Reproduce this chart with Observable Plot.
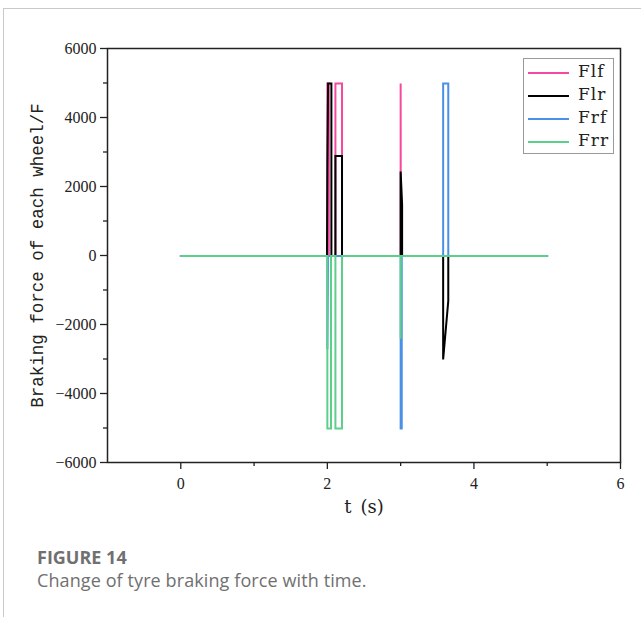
<!DOCTYPE html>
<html>
<head>
<meta charset="utf-8">
<script src="https://cdn.jsdelivr.net/npm/d3@7"></script>
<script src="https://cdn.jsdelivr.net/npm/@observablehq/plot@0.6"></script>
<style>
  html, body { margin: 0; padding: 0; background: #fff; }
  body { width: 641px; height: 617px; position: relative; overflow: hidden; }
  #page { position: absolute; left: 3px; top: 8px; width: 700px; height: 700px;
          border-top: 1px solid #c9c9c9; border-left: 1px solid #c9c9c9; }
  #chart { position: absolute; left: 0; top: 0; }
  #legend { position: absolute; left: 523px; top: 58px; width: 91px; height: 96px;
            border: 1px solid #9a9a9a; background: #fff; box-sizing: border-box; }
  .lrow { position: absolute; left: 0; height: 23px; width: 91px; }
  .lrow .sw { position: absolute; left: 4px; width: 41px; top: 11px; height: 0; border-top: 2px solid; }
  .lrow .lt { position: absolute; left: 54px; top: -1px; font-family: "DejaVu Serif", "Liberation Serif", serif;
              font-size: 17px; color: #222; line-height: 23px; letter-spacing: 1px; }
  #cap1 { position: absolute; left: 37px; top: 545px; font-family: "Open Sans", Lato, sans-serif;
          font-weight: 700; font-size: 18px; color: #707070; }
  #cap2 { position: absolute; left: 37px; top: 568px; font-family: "Open Sans", Lato, sans-serif;
          font-size: 18px; color: #707070; letter-spacing: 0.1px; }
</style>
</head>
<body>
<div id="page"></div>
<div id="chart"></div>
<div id="legend"></div>
<div id="cap1">FIGURE 14</div>
<div id="cap2">Change of tyre braking force with time.</div>
<script>
// Series names and colours
const seriesNames = ["Flf", "Flr", "Frf", "Frr"];
const seriesColors = ["#f7489f", "#000000", "#4a90e8", "#5ccf8a"];

// Time (s) and braking force values
const flfT = [0, 2.0, 2.0, 2.02, 2.02, 2.11, 2.11, 2.2, 2.2, 3.0, 3.0, 3.002, 5];
const flfV = [0, 0, 5000, 5000, 0, 0, 5000, 5000, 0, 0, 5000, 0, 0];

const flrT = [0, 1.995, 2.0, 2.01, 2.055, 2.055, 2.11, 2.11, 2.2, 2.2, 3.0, 3.0, 3.02, 3.02, 3.58, 3.58, 3.65, 3.65, 5];
const flrV = [0, 0, 2600, 5000, 5000, 0, 0, 2900, 2900, 0, 0, 2450, 1500, 0, 0, -3000, -1300, 0, 0];

const frfT = [0, 2.0, 2.0, 2.01, 3.0, 3.0, 3.015, 3.015, 3.58, 3.58, 3.65, 3.65, 5];
const frfV = [0, 0, -2700, 0, 0, -5000, -5000, 0, 0, 5000, 5000, 0, 0];

const frrT = [0, 2.0, 2.0, 2.05, 2.05, 2.11, 2.11, 2.2, 2.2, 3.0, 3.0, 3.002, 5];
const frrV = [0, 0, -5000, -5000, 0, 0, -5000, -5000, 0, 0, -2400, 0, 0];

// Axis ticks
const xTicks = [0, 2, 4, 6];
const xMinor = [1, 3, 5];
const yTicks = [-6000, -4000, -2000, 0, 2000, 4000, 6000];
const yMinor = [-5000, -3000, -1000, 1000, 3000, 5000];

const toRows = (name, T, V) => T.map((t, i) => ({series: name, t, v: V[i]}));
const allSeries = [
  toRows("Flf", flfT, flfV),
  toRows("Flr", flrT, flrV),
  toRows("Frf", frfT, frfV),
  toRows("Frr", frrT, frrV)
];

const fmt = d => d < 0 ? "\u2212" + Math.abs(d) : String(d);
const tickFont = "Liberation Serif";
const labelFont = "DejaVu Serif";

const chart = Plot.plot({
  width: 641,
  height: 530,
  marginTop: 48,
  marginLeft: 107,
  marginRight: 21,
  marginBottom: 68,
  style: {fontSize: "16px", color: "#222", background: "transparent"},
  x: {domain: [-1, 6]},
  y: {domain: [-6000, 6000]},
  color: {domain: seriesNames, range: seriesColors},
  marks: [
    ...allSeries.map(rows => Plot.line(rows, {x: "t", y: "v", stroke: "series", strokeWidth: 2, dy: 0.5, strokeLinejoin: "miter", strokeMiterlimit: 2})),
    Plot.frame({stroke: "#222", strokeWidth: 1.5}),
    Plot.axisY(yTicks, {tickSize: 7, text: null, stroke: "#222", strokeWidth: 1.3, label: null}),
    Plot.axisY(yMinor, {tickSize: 4, text: null, stroke: "#222", strokeWidth: 1.3, label: null}),
    Plot.axisX(xTicks, {tickSize: 7, text: null, stroke: "#222", strokeWidth: 1.3, label: null}),
    Plot.axisX(xMinor, {tickSize: 4, text: null, stroke: "#222", strokeWidth: 1.3, label: null}),
    Plot.text(yTicks, {y: d => d, frameAnchor: "left", textAnchor: "end", dx: -11, text: fmt, fontFamily: tickFont, fontSize: 16, fill: "#222"}),
    Plot.text(xTicks, {x: d => d, frameAnchor: "bottom", lineAnchor: "top", dy: 15, text: d => String(d), fontFamily: tickFont, fontSize: 16, fill: "#222"}),
    Plot.text(["t (s)"], {frameAnchor: "bottom", dy: 50, fontFamily: labelFont, fontSize: 18, fill: "#222", text: d => "t\u2002(s)"}),
    Plot.text(["Braking force of each wheel/F"], {frameAnchor: "left", dx: -70, rotate: -90, textAnchor: "middle", fontFamily: "Liberation Mono, monospace", fontSize: 17.5, fill: "#222", text: d => d})
  ]
});
document.getElementById("chart").appendChild(chart);

// Legend
const legend = document.getElementById("legend");
seriesNames.forEach((name, i) => {
  const row = document.createElement("div");
  row.className = "lrow";
  row.style.top = (2 + i * 23) + "px";
  const sw = document.createElement("div");
  sw.className = "sw";
  sw.style.borderTopColor = seriesColors[i];
  const lt = document.createElement("div");
  lt.className = "lt";
  lt.textContent = name;
  row.appendChild(sw);
  row.appendChild(lt);
  legend.appendChild(row);
});
</script>
</body>
</html>
